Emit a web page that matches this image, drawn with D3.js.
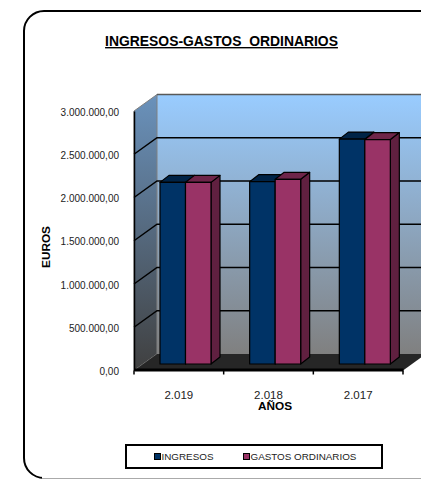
<!DOCTYPE html>
<html>
<head>
  <title>Ingresos-Gastos</title>
  <style>
    html, body { margin: 0; padding: 0; background: #fff; overflow: hidden; }
    text { font-family: "Liberation Sans", Arial, sans-serif; }
  </style>
</head>
<body>
  <svg id="svg" width="421" height="479"></svg>
  <script src="https://d3js.org/d3.v7.min.js"></script>
  <script>
    const years = ["2.019", "2.018", "2.017"]
    const seriesNames = ["INGRESOS", "GASTOS ORDINARIOS"]
    const ingresos = [2100000, 2108000, 2600000]
    const gastos = [2100000, 2135000, 2595000]
    const yTicks = [0, 500000, 1000000, 1500000, 2000000, 2500000, 3000000]
    const frontColors = ["#003366", "#993366"]
    const topColors = ["#002346", "#6e2549"]
    const sideColors = ["#001f3f", "#602040"]

    const depthX = 23
    const depthY = -16.5
    const barDepthX = 9
    const barDepthY = -7
    const barShiftY = -6.5

    const svg = d3.select("#svg")
    const defs = svg.append("defs")

    const fmt = d => d3.format(",.2f")(d).replace(/,/g, "#").replace(".", ",").replace(/#/g, ".")

    const x = d3.scaleBand().domain(years).range([134, 403])
    const xInner = d3.scaleBand().domain(seriesNames).range([26, 77])
    const y = d3.scaleLinear().domain([0, 3000000]).range([370.5, 111])

    const wallGrad = defs.append("linearGradient").attr("id", "wall").attr("x2", 0).attr("y2", 1)
    wallGrad.append("stop").attr("offset", "0%").attr("stop-color", "#99ccff")
    wallGrad.append("stop").attr("offset", "100%").attr("stop-color", "#808080")
    const sideGrad = defs.append("linearGradient").attr("id", "side").attr("x2", 0).attr("y2", 1)
    sideGrad.append("stop").attr("offset", "0%").attr("stop-color", "#6a92bc")
    sideGrad.append("stop").attr("offset", "100%").attr("stop-color", "#404040")

    // outer frame
    svg.append("rect")
      .attr("x", 24).attr("y", 11)
      .attr("width", 460).attr("height", 467)
      .attr("rx", 20)
      .attr("fill", "#fff")
      .attr("stroke", "#000")
      .attr("stroke-width", 2)
    // bottom edge of the frame is a thin grey line in the original
    svg.append("rect")
      .attr("x", 42).attr("y", 476)
      .attr("width", 379).attr("height", 3)
      .attr("fill", "#fff")
    svg.append("line")
      .attr("x1", 42).attr("x2", 421)
      .attr("y1", 478.5).attr("y2", 478.5)
      .attr("stroke", "#aaa")

    const x0 = x.range()[0]
    const x1 = x.range()[1]
    const y0 = y(0)
    const yMax = y(3000000)
    const line = d3.line()

    // back wall, left wall, floor
    svg.append("rect")
      .attr("x", x0 + depthX).attr("y", yMax + depthY)
      .attr("width", x1 - x0).attr("height", y0 - yMax)
      .attr("fill", "url(#wall)")
    svg.append("path")
      .attr("d", line([[x0, yMax], [x0 + depthX, yMax + depthY], [x0 + depthX, y0 + depthY], [x0, y0]]) + "Z")
      .attr("fill", "url(#side)")
      .attr("stroke", "#808080")
    svg.append("path")
      .attr("d", line([[x0, y0], [x0 + depthX, y0 + depthY], [x1 + depthX, y0 + depthY], [x1, y0]]) + "Z")
      .attr("fill", "#262626")
    svg.append("path")
      .attr("d", line([[x0 + depthX, yMax + depthY], [x1 + depthX, yMax + depthY]]))
      .attr("stroke", "#595959").attr("stroke-width", 1.5)

    // grid lines run along the left wall then the back wall
    svg.append("g").selectAll("path")
      .data(yTicks.filter(d => d > 0 && d < 3000000))
      .enter().append("path")
      .attr("d", d => line([[x0, y(d)], [x0 + depthX, y(d) + depthY], [x1 + depthX, y(d) + depthY]]))
      .attr("fill", "none")
      .attr("stroke", "#000")
      .attr("stroke-width", 1.5)

    // bars
    const rows = []
    years.forEach((year, i) => {
      rows.push({ year, s: 0, value: ingresos[i] })
      rows.push({ year, s: 1, value: gastos[i] })
    })
    const bars = svg.append("g").selectAll("g").data(rows).enter().append("g")
      .attr("stroke", "#000").attr("stroke-width", 1.2).attr("stroke-linejoin", "round")
    const bx = d => x(d.year) + xInner(seriesNames[d.s])
    const bw = xInner.bandwidth()
    const by = d => y(d.value) + barShiftY
    const bb = y(0) + barShiftY
    bars.append("path")
      .attr("fill", d => sideColors[d.s])
      .attr("d", d => line([[bx(d) + bw, by(d)], [bx(d) + bw + barDepthX, by(d) + barDepthY],
        [bx(d) + bw + barDepthX, bb + barDepthY], [bx(d) + bw, bb]]) + "Z")
    bars.append("path")
      .attr("fill", d => topColors[d.s])
      .attr("d", d => line([[bx(d), by(d)], [bx(d) + barDepthX, by(d) + barDepthY],
        [bx(d) + bw + barDepthX, by(d) + barDepthY], [bx(d) + bw, by(d)]]) + "Z")
    bars.append("rect")
      .attr("fill", d => frontColors[d.s])
      .attr("x", bx).attr("y", by)
      .attr("width", bw).attr("height", d => bb - by(d))

    // axes
    const leftAxis = d3.axisLeft(y).tickValues(yTicks).tickFormat(fmt).tickSize(0).tickPadding(15)
    const gy = svg.append("g").attr("transform", `translate(${x0},0)`).call(leftAxis)
    gy.select(".domain").attr("stroke", "#000").attr("stroke-width", 1.5)
    gy.selectAll("text").attr("font-size", 10).attr("fill", "#222").attr("y", 1)
      .style("font-family", '"Liberation Sans", Arial, sans-serif')

    const bottomAxis = d3.axisBottom(x).tickSize(0).tickPadding(21)
    const gx = svg.append("g").attr("transform", `translate(0,${y0 - 1})`).call(bottomAxis)
    gx.select(".domain").attr("stroke", "#000").attr("stroke-width", 3)
    gx.selectAll("text").attr("font-size", 11.5).attr("fill", "#222")
      .style("font-family", '"Liberation Sans", Arial, sans-serif')
    svg.append("g").selectAll("line")
      .data(x.domain().map(d => x(d)).concat([x1]))
      .enter().append("line")
      .attr("x1", d => d).attr("x2", d => d)
      .attr("y1", y0).attr("y2", y0 + 4)
      .attr("stroke", "#000").attr("stroke-width", 1.5)

    // titles
    svg.append("text")
      .attr("x", 221.5).attr("y", 46)
      .attr("text-anchor", "middle")
      .attr("font-size", 13.9).attr("font-weight", "bold")
      .attr("text-decoration", "underline")
      .text("INGRESOS-GASTOS\u00a0 ORDINARIOS")
    svg.append("text")
      .attr("x", 275).attr("y", 410)
      .attr("text-anchor", "middle")
      .attr("font-size", 11.8).attr("font-weight", "bold")
      .text("AÑOS")
    svg.append("text")
      .attr("transform", "translate(50,247) rotate(-90)")
      .attr("text-anchor", "middle")
      .attr("font-size", 11.8).attr("font-weight", "bold")
      .text("EUROS")

    // legend
    const legend = svg.append("g")
    legend.append("rect")
      .attr("x", 126).attr("y", 445)
      .attr("width", 256).attr("height", 23)
      .attr("fill", "#fff").attr("stroke", "#000").attr("stroke-width", 2)
    const legendX = [154.5, 243.5]
    seriesNames.forEach((name, i) => {
      legend.append("rect")
        .attr("x", legendX[i]).attr("y", 453.5)
        .attr("width", 6).attr("height", 6)
        .attr("fill", frontColors[i]).attr("stroke", "#000")
      legend.append("text")
        .attr("x", legendX[i] + 7).attr("y", 460)
        .attr("font-size", 9.85).attr("fill", "#222")
        .text(name)
    })
  </script>
</body>
</html>
